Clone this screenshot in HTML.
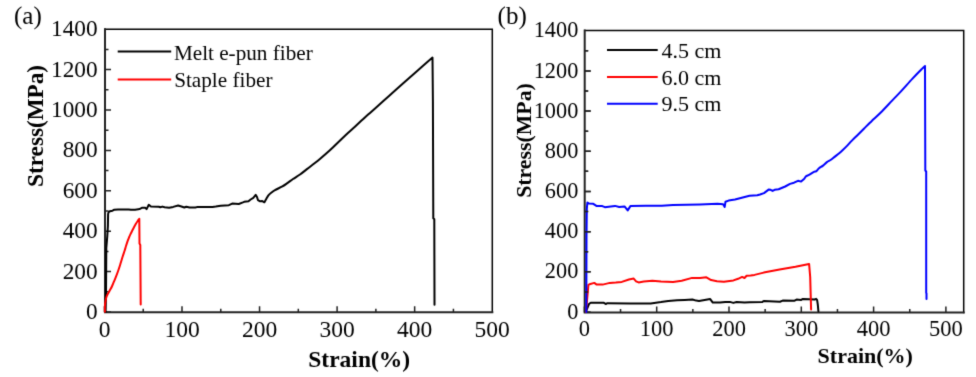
<!DOCTYPE html><html><head><meta charset="utf-8"><style>html,body{margin:0;padding:0;background:#fff;width:976px;height:377px;overflow:hidden}svg{display:block}text{font-family:"Liberation Serif",serif;fill:#000}</style></head><body>
<svg width="976" height="377" viewBox="0 0 976 377" style="will-change:transform">
<defs><filter id="sf" x="0" y="0" width="976" height="377" filterUnits="userSpaceOnUse" color-interpolation-filters="sRGB"><feConvolveMatrix order="3" kernelMatrix="0.0144 0.0912 0.0144 0.0912 0.5776 0.0912 0.0144 0.0912 0.0144" edgeMode="duplicate"/></filter></defs>
<g filter="url(#sf)"><rect width="976" height="377" fill="#fff"/>
<g stroke="#222" fill="none" stroke-linecap="square">
<path d="M105.0,29.3 H492.3 V312.3" stroke-width="1.5" stroke="#000"/>
<path d="M105.0,29.3 V312.3 H492.3" stroke-width="2"/>
<path d="M105.0,312.00h6M105.0,291.80h3.5M105.0,271.60h6M105.0,251.40h3.5M105.0,231.20h6M105.0,211.00h3.5M105.0,190.80h6M105.0,170.60h3.5M105.0,150.40h6M105.0,130.20h3.5M105.0,110.00h6M105.0,89.80h3.5M105.0,69.60h6M105.0,49.40h3.5M104.45,312.3v-6M143.22,312.3v-3.5M182.00,312.3v-6M220.77,312.3v-3.5M259.55,312.3v-6M298.32,312.3v-3.5M337.10,312.3v-6M375.88,312.3v-3.5M414.65,312.3v-6M453.42,312.3v-3.5" stroke-width="1.5" stroke-linecap="butt"/>
</g>
<g stroke="#222" fill="none" stroke-linecap="square">
<path d="M584.7,30.5 H963.7 V312.6" stroke-width="1.5" stroke="#000"/>
<path d="M584.7,30.5 V312.6 H963.7" stroke-width="2"/>
<path d="M584.7,312.00h6M584.7,291.91h3.5M584.7,271.82h6M584.7,251.73h3.5M584.7,231.64h6M584.7,211.55h3.5M584.7,191.46h6M584.7,171.37h3.5M584.7,151.28h6M584.7,131.19h3.5M584.7,111.10h6M584.7,91.01h3.5M584.7,70.92h6M584.7,50.83h3.5M584.40,312.6v-6M620.55,312.6v-3.5M656.70,312.6v-6M692.85,312.6v-3.5M729.00,312.6v-6M765.15,312.6v-3.5M801.30,312.6v-6M837.45,312.6v-3.5M873.60,312.6v-6M909.75,312.6v-3.5M945.90,312.6v-6" stroke-width="1.5" stroke-linecap="butt"/>
</g>
<g fill="none" stroke-width="2.0" stroke-linejoin="round" stroke-linecap="round">
<path d="M105.60,312.00L106.00,294.00L106.30,248.00L107.30,236.00L107.90,226.00L108.10,214.00C108.20,213.70 108.38,212.65 108.70,212.20C109.02,211.75 109.42,211.52 110.00,211.30C110.58,211.08 111.48,211.15 112.20,210.90C112.92,210.65 113.00,210.02 114.30,209.80C115.60,209.58 117.60,209.65 120.00,209.60C122.40,209.55 126.53,209.47 128.70,209.50C130.87,209.53 131.20,209.87 133.00,209.80C134.80,209.73 138.42,209.22 139.50,209.10L142.30,207.70L145.20,207.70L146.60,209.10L148.80,204.80L150.90,206.50L158.80,206.80L160.30,207.30L162.40,206.60L164.60,207.30L169.10,207.70L173.20,206.90L178.10,205.50L181.40,206.50L184.30,207.50L186.30,206.70L189.60,207.50L195.30,207.50L197.80,206.90L212.50,206.90L215.80,206.50L220.70,205.70L228.90,205.20L232.20,203.60L238.80,204.00L242.90,202.40L244.20,201.80L248.50,201.30L250.60,199.50L253.30,197.80L255.70,194.90L257.00,197.00L258.00,200.20L260.10,201.30L262.30,201.10L264.40,202.30C264.75,201.68 265.80,199.78 266.50,198.60C267.20,197.42 267.72,196.25 268.60,195.20C269.48,194.15 270.73,193.15 271.80,192.30C272.87,191.45 273.23,191.08 275.00,190.10C276.77,189.12 280.28,187.60 282.40,186.40C284.52,185.20 285.93,184.13 287.70,182.90C289.47,181.67 290.95,180.40 293.00,179.00C295.05,177.60 297.73,176.10 300.00,174.50C302.27,172.90 304.40,171.10 306.60,169.40C308.80,167.70 310.98,166.03 313.20,164.30C315.42,162.57 317.68,160.83 319.90,159.00C322.12,157.17 324.30,155.27 326.50,153.30C328.70,151.33 330.58,149.58 333.10,147.20C335.62,144.82 339.08,141.40 341.60,139.00C344.12,136.60 345.98,134.85 348.20,132.80C350.42,130.75 352.68,128.73 354.90,126.70C357.12,124.67 359.30,122.62 361.50,120.60C363.70,118.58 365.93,116.55 368.10,114.60C370.27,112.65 371.02,112.00 374.50,108.90C377.98,105.80 384.17,100.32 389.00,96.00C393.83,91.68 398.67,87.30 403.50,83.00C408.33,78.70 413.17,74.43 418.00,70.20C422.83,65.97 430.08,59.70 432.50,57.60L432.90,101.00L433.30,218.30L434.30,219.30L434.50,304.80" stroke="#000"/>
<path d="M104.90,311.70C104.90,310.75 104.78,307.87 104.90,306.00C105.02,304.13 105.32,302.08 105.60,300.50C105.88,298.92 106.20,297.65 106.60,296.50C107.00,295.35 107.43,294.68 108.00,293.60C108.57,292.52 109.35,291.18 110.00,290.00C110.65,288.82 111.25,287.88 111.90,286.50C112.55,285.12 113.23,283.30 113.90,281.70C114.57,280.10 115.20,278.68 115.90,276.90C116.60,275.12 117.40,272.98 118.10,271.00C118.80,269.02 119.52,266.83 120.10,265.00C120.68,263.17 121.12,261.58 121.60,260.00C122.08,258.42 122.50,257.03 123.00,255.50C123.50,253.97 124.10,252.38 124.60,250.80C125.10,249.22 125.52,247.58 126.00,246.00C126.48,244.42 127.00,242.72 127.50,241.30C128.00,239.88 128.50,238.70 129.00,237.50C129.50,236.30 129.95,235.27 130.50,234.10C131.05,232.93 131.70,231.68 132.30,230.50C132.90,229.32 133.50,228.12 134.10,227.00C134.70,225.88 135.30,224.80 135.90,223.80C136.50,222.80 137.13,221.83 137.70,221.00C138.27,220.17 139.03,219.17 139.30,218.80L139.50,243.50L140.30,245.00L140.70,304.50" stroke="#ff0000"/>
<path d="M585.70,312.00L589.00,304.00L590.70,302.80L603.90,302.80L605.70,304.00L607.50,303.20L630.00,303.40L650.70,303.40L661.00,302.10L668.20,300.90L677.10,300.30L684.70,299.90L692.40,299.50L696.20,300.60L699.00,300.90L710.20,299.10L712.80,302.60L720.00,302.40L725.30,301.90L729.90,301.90L733.30,302.90L736.60,302.00L744.50,302.60L749.80,302.20L762.40,301.90L763.70,301.00L780.00,301.70L782.70,300.60L794.60,300.70L796.60,299.60L801.20,299.90L802.50,299.10L809.20,299.30L814.50,299.60L816.10,298.80L817.10,299.90L817.80,304.60L818.40,311.20" stroke="#000"/>
<path d="M586.00,312.00L588.40,284.90L589.50,284.30L594.30,282.90L596.70,284.60L602.70,284.60L609.80,282.90L615.80,282.50L621.80,281.90L628.90,279.50L633.70,278.60L636.10,281.30L638.60,282.40L643.80,281.60L652.40,280.70L661.00,281.40L673.10,281.90L681.70,280.70L692.10,277.90L700.00,278.10L706.40,277.30L711.10,280.10L717.00,281.20L723.90,281.70L733.40,280.40L738.10,278.80L742.10,276.90L744.50,278.00L746.60,275.80L750.60,275.60L754.50,274.90L763.70,272.60L779.60,269.50L795.50,266.70L809.10,263.90L810.20,277.00L811.10,309.50" stroke="#ff0000"/>
<path d="M586.30,312.00L586.50,236.00L586.80,209.10L587.40,202.50L589.00,203.60L593.30,203.80L596.40,205.90L602.30,206.10L604.90,207.20L610.80,206.40L615.00,205.90L619.20,207.00L624.50,206.40L627.70,210.40L630.40,206.10L645.90,205.80L661.80,205.70L673.00,205.00L700.00,204.50L717.50,203.80L723.10,204.20L724.70,206.90L725.50,201.70L728.60,200.60L735.00,199.50L749.50,195.70L757.30,195.30L760.00,194.50L764.00,193.10L768.60,189.60L770.60,189.80L772.60,190.90L774.60,189.80L778.60,189.20L785.20,186.50L790.00,183.90L794.00,182.70L798.00,180.80L801.10,181.60L804.30,178.70L805.90,176.30C806.57,175.97 808.57,175.03 809.90,174.30C811.23,173.57 812.83,172.43 813.90,171.90C814.97,171.37 815.45,171.70 816.30,171.10C817.15,170.50 817.88,169.22 819.00,168.30C820.12,167.38 821.68,166.63 823.00,165.60C824.32,164.57 825.58,163.07 826.90,162.10C828.22,161.13 829.57,160.72 830.90,159.80C832.23,158.88 833.57,157.65 834.90,156.60C836.23,155.55 837.58,154.60 838.90,153.50C840.22,152.40 841.37,151.35 842.80,150.00C844.23,148.65 845.98,146.97 847.50,145.40C849.02,143.83 850.17,142.38 851.90,140.60C853.63,138.82 855.90,136.68 857.90,134.70C859.90,132.72 861.90,130.70 863.90,128.70C865.90,126.70 868.30,124.27 869.90,122.70C871.50,121.13 871.47,121.22 873.50,119.30C875.53,117.38 879.00,114.32 882.10,111.20C885.20,108.08 888.92,103.95 892.10,100.60C895.28,97.25 897.80,94.77 901.20,91.10C904.60,87.43 909.08,82.27 912.50,78.60C915.92,74.93 919.62,71.20 921.70,69.10C923.78,67.00 924.45,66.52 925.00,66.00L925.30,170.50L926.20,171.50L926.20,292.80L926.50,293.50L926.50,299.00" stroke="#0000ff"/>
</g>
<path d="M584.7,291.91h3.5M584.7,271.82h6M584.7,251.73h3.5M584.7,231.64h6M584.7,211.55h3.5M584.7,191.46h6M584.7,171.37h3.5M584.7,151.28h6M584.7,131.19h3.5M584.7,111.10h6M584.7,91.01h3.5M584.7,70.92h6M584.7,50.83h3.5" stroke="#222" stroke-width="1.5" fill="none"/>
<text x="97.6" y="318.9" font-size="23.3" text-anchor="end">0</text>
<text x="97.6" y="278.5" font-size="23.3" text-anchor="end">200</text>
<text x="97.6" y="238.1" font-size="23.3" text-anchor="end">400</text>
<text x="97.6" y="197.7" font-size="23.3" text-anchor="end">600</text>
<text x="97.6" y="157.3" font-size="23.3" text-anchor="end">800</text>
<text x="97.6" y="116.9" font-size="23.3" text-anchor="end">1000</text>
<text x="97.6" y="76.5" font-size="23.3" text-anchor="end">1200</text>
<text x="97.6" y="36.1" font-size="23.3" text-anchor="end">1400</text>
<text x="104.5" y="336.9" font-size="23.5" text-anchor="middle">0</text>
<text x="182.0" y="336.9" font-size="23.5" text-anchor="middle">100</text>
<text x="259.6" y="336.9" font-size="23.5" text-anchor="middle">200</text>
<text x="337.1" y="336.9" font-size="23.5" text-anchor="middle">300</text>
<text x="414.6" y="336.9" font-size="23.5" text-anchor="middle">400</text>
<text x="492.2" y="336.9" font-size="23.5" text-anchor="middle">500</text>
<text x="578.3" y="318.6" font-size="22.3" text-anchor="end">0</text>
<text x="578.3" y="278.4" font-size="22.3" text-anchor="end">200</text>
<text x="578.3" y="238.2" font-size="22.3" text-anchor="end">400</text>
<text x="578.3" y="198.1" font-size="22.3" text-anchor="end">600</text>
<text x="578.3" y="157.9" font-size="22.3" text-anchor="end">800</text>
<text x="578.3" y="117.7" font-size="22.3" text-anchor="end">1000</text>
<text x="578.3" y="77.5" font-size="22.3" text-anchor="end">1200</text>
<text x="578.3" y="37.3" font-size="22.3" text-anchor="end">1400</text>
<text x="584.4" y="335.9" font-size="22.5" text-anchor="middle">0</text>
<text x="656.7" y="335.9" font-size="22.5" text-anchor="middle">100</text>
<text x="729.0" y="335.9" font-size="22.5" text-anchor="middle">200</text>
<text x="801.3" y="335.9" font-size="22.5" text-anchor="middle">300</text>
<text x="873.6" y="335.9" font-size="22.5" text-anchor="middle">400</text>
<text x="945.9" y="335.9" font-size="22.5" text-anchor="middle">500</text>
<text x="308.3" y="366.9" font-size="23.5" font-weight="bold">Strain(%)</text>
<text x="817.6" y="363.4" font-size="22" font-weight="bold">Strain(%)</text>
<text transform="translate(43.4,186.9) rotate(-90)" font-size="23.2" font-weight="bold">Stress(MPa)</text>
<text transform="translate(530.8,197.8) rotate(-90)" font-size="21.8" font-weight="bold">Stress(MPa)</text>
<text x="14" y="23.6" font-size="25">(a)</text>
<text x="497.6" y="23.6" font-size="25">(b)</text>
<g stroke-width="2" fill="none">
<path d="M117.7,51.6H171.2" stroke="#000"/>
<path d="M117.7,79.6H171.2" stroke="#ff0000"/>
<path d="M607,50H657.7" stroke="#000"/>
<path d="M607,76.9H657.7" stroke="#ff0000"/>
<path d="M607,103.7H657.7" stroke="#0000ff"/>
</g>
<text x="173.9" y="59.5" font-size="21.2">Melt e-pun fiber</text>
<text x="174.2" y="86.9" font-size="21.2">Staple fiber</text>
<text x="661.6" y="57.8" font-size="22">4.5 cm</text>
<text x="661.6" y="84.7" font-size="22">6.0 cm</text>
<text x="661.6" y="111.4" font-size="22">9.5 cm</text>
</g></svg></body></html>
